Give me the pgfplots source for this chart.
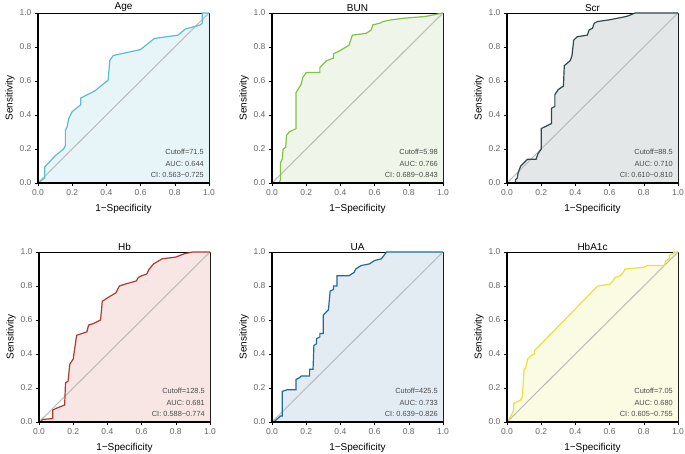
\documentclass[border=0pt]{standalone}
\usepackage{fontspec}
\setmainfont{Liberation Sans}
\usepackage{pgfplots}
\usepackage{pgfplotstable}
\pgfplotsset{compat=1.18}

\definecolor{cAge}{HTML}{5DBCD2}  \definecolor{fAge}{HTML}{E8F5F8}
\definecolor{cBUN}{HTML}{80C342}  \definecolor{fBUN}{HTML}{EFF5E8}
\definecolor{cScr}{HTML}{2E4A4F}  \definecolor{fScr}{HTML}{E4E7E7}
\definecolor{cHb}{HTML}{B2392F}   \definecolor{fHb}{HTML}{F7E6E3}
\definecolor{cUA}{HTML}{1F6AA5}   \definecolor{fUA}{HTML}{E3EBF3}
\definecolor{cHbA}{HTML}{E8E23A}  \definecolor{fHbA}{HTML}{FBFAE3}
\definecolor{ticklab}{HTML}{666666}

% ROC points: fpr tpr
\pgfplotstableread{
x y
0 0
0.04 0.03
0.04 0.094
0.1 0.16
0.15 0.2
0.16 0.22
0.16 0.31
0.17 0.33
0.18 0.38
0.2 0.42
0.25 0.46
0.25 0.5
0.33 0.54
0.41 0.605
0.42 0.72
0.44 0.75
0.6 0.785
0.68 0.85
0.82 0.87
0.86 0.905
0.95 0.93
0.96 0.94
0.96 1.0
1 1
}\rocAge

\pgfplotstableread{
x y
0 0
0.04 0.0
0.05 0.02
0.05 0.12
0.06 0.14
0.065 0.2
0.08 0.21
0.085 0.28
0.1 0.3
0.14 0.32
0.14 0.53
0.17 0.58
0.18 0.62
0.2 0.65
0.28 0.65
0.28 0.68
0.3 0.7
0.32 0.72
0.36 0.735
0.36 0.76
0.4 0.78
0.45 0.81
0.46 0.84
0.47 0.87
0.55 0.88
0.58 0.9
0.59 0.93
0.63 0.94
0.65 0.95
0.7 0.96
0.78 0.97
0.9 0.98
1 1
}\rocBUN

\pgfplotstableread{
x y
0.03 0
0.05 0
0.05 0.02
0.06 0.03
0.065 0.06
0.08 0.1
0.1 0.12
0.12 0.14
0.17 0.14
0.18 0.17
0.2 0.2
0.2 0.32
0.26 0.35
0.26 0.44
0.28 0.45
0.28 0.52
0.3 0.55
0.33 0.57
0.335 0.69
0.37 0.72
0.38 0.75
0.39 0.84
0.41 0.86
0.47 0.87
0.48 0.9
0.5 0.91
0.51 0.94
0.53 0.95
0.6 0.96
0.7 0.98
0.75 1
1 1
}\rocScr

\pgfplotstableread{
x y
0.01 0
0.02 0.015
0.08 0.02
0.08 0.07
0.1 0.08
0.15 0.1
0.155 0.23
0.17 0.24
0.18 0.34
0.2 0.37
0.22 0.51
0.28 0.53
0.29 0.57
0.32 0.58
0.36 0.6
0.37 0.71
0.4 0.73
0.45 0.76
0.47 0.8
0.5 0.81
0.57 0.83
0.58 0.85
0.6 0.86
0.63 0.87
0.645 0.9
0.67 0.93
0.72 0.96
0.8 0.97
0.85 0.99
0.9 1.0
1 1
}\rocHb

\pgfplotstableread{
x y
0.01 0
0.05 0.035
0.06 0.035
0.06 0.18
0.09 0.19
0.14 0.19
0.14 0.25
0.16 0.26
0.17 0.27
0.22 0.27
0.22 0.31
0.24 0.31
0.245 0.45
0.26 0.46
0.26 0.49
0.28 0.5
0.28 0.52
0.3 0.52
0.3 0.63
0.32 0.65
0.33 0.66
0.34 0.77
0.36 0.78
0.36 0.8
0.38 0.8
0.38 0.86
0.45 0.86
0.48 0.88
0.49 0.9
0.52 0.92
0.57 0.93
0.6 0.95
0.64 0.96
0.67 1.0
1 1
}\rocUA

\pgfplotstableread{
x y
0 0
0.02 0.03
0.04 0.07
0.04 0.11
0.08 0.13
0.09 0.15
0.1 0.31
0.11 0.32
0.12 0.37
0.14 0.39
0.16 0.4
0.16 0.42
0.2 0.46
0.53 0.8
0.6 0.81
0.62 0.83
0.63 0.85
0.66 0.86
0.68 0.88
0.69 0.9
0.8 0.91
0.82 0.92
0.92 0.92
0.93 0.95
0.95 0.96
0.95 0.98
0.97 0.99
0.98 1.0
1 1
}\rocHbA

\pgfplotsset{
  rocpanel/.style={
    scale only axis, width=171pt, height=170pt,
    xmin=0, xmax=1, ymin=0, ymax=1,
    xtick={0,0.2,0.4,0.6,0.8,1}, ytick={0,0.2,0.4,0.6,0.8,1},
    xtick pos=bottom, ytick pos=left,
    tick align=outside, major tick length=3pt,
    tick style={black, line width=0.6pt},
    axis line style={line width=0.8pt},
    /pgf/number format/assume math mode=true,
    /pgf/number format/fixed, /pgf/number format/fixed zerofill,
    /pgf/number format/precision=1,
    ticklabel style={font=\fontsize{8.5}{9}\selectfont, text=ticklab},
    xticklabel style={yshift=-0.5pt},
    label style={font=\fontsize{10}{11}\selectfont},
    xlabel={1−Specificity}, ylabel={Sensitivity},
    xlabel style={yshift=-1pt}, ylabel style={yshift=-2pt},
    title style={font=\fontsize{10}{11}\selectfont, yshift=-8pt},
    clip=false,
    after end axis/.code={
      \draw[line width=1.5pt] (rel axis cs:0,1) -- (rel axis cs:0,0) -- (rel axis cs:1,0);
    },
  },
}
\newcommand{\rocpanel}[9]{%
  % #1 x, #2 y, #3 title, #4 table, #5 line col, #6 fill col, #7 cutoff, #8 auc, #9 ci
  \begin{axis}[rocpanel, at={(#1,#2)}, anchor=south west, title={#3}]
    \addplot[draw=none, fill=#6] table[x=x,y=y] {#4} \closedcycle;
    \addplot[draw={rgb,255:red,190;green,190;blue,190}, line width=1.1pt] coordinates {(0,0) (1,1)};
    \addplot[#5, line width=1.2pt] table[x=x,y=y] {#4};
    \node[anchor=east, font=\fontsize{7.4}{8}\selectfont, text=black!70]
      at (rel axis cs:0.99,0.183) {#7};
    \node[anchor=east, font=\fontsize{7.4}{8}\selectfont, text=black!70]
      at (rel axis cs:0.99,0.113) {#8};
    \node[anchor=east, font=\fontsize{7.4}{8}\selectfont, text=black!70]
      at (rel axis cs:0.99,0.05) {#9};
  \end{axis}}

\begin{document}
\begin{tikzpicture}[x=1pt,y=1pt]
\useasboundingbox (0,0) rectangle (685,454);
\rocpanel{38pt}{271pt}{Age}{\rocAge}{cAge}{fAge}{Cutoff=71.5}{AUC: 0.644}{CI: 0.563−0.725}
\rocpanel{272pt}{271pt}{BUN}{\rocBUN}{cBUN}{fBUN}{Cutoff=5.98}{AUC: 0.766}{CI: 0.689−0.843}
\rocpanel{507pt}{271pt}{Scr}{\rocScr}{cScr}{fScr}{Cutoff=88.5}{AUC: 0.710}{CI: 0.610−0.810}
\rocpanel{39pt}{32pt}{Hb}{\rocHb}{cHb}{fHb}{Cutoff=128.5}{AUC: 0.681}{CI: 0.588−0.774}
\rocpanel{272pt}{32pt}{UA}{\rocUA}{cUA}{fUA}{Cutoff=425.5}{AUC: 0.733}{CI: 0.639−0.826}
\rocpanel{507pt}{32pt}{HbA1c}{\rocHbA}{cHbA}{fHbA}{Cutoff=7.05}{AUC: 0.680}{CI: 0.605−0.755}
\end{tikzpicture}
\end{document}
